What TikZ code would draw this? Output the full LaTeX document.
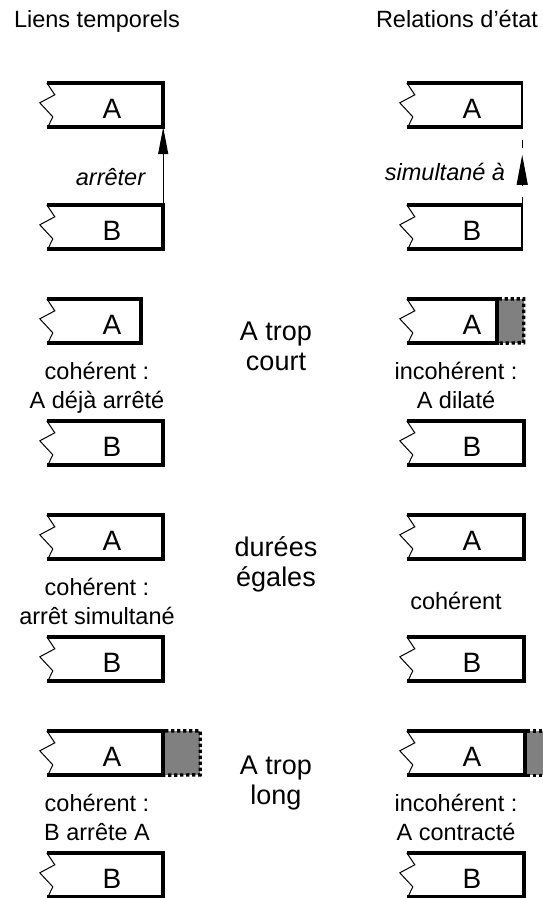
\documentclass[tikz,border=0pt]{standalone}
\usepackage{fontspec}
\setmainfont{Liberation Sans}
\usetikzlibrary{arrows.meta,decorations.markings}
\definecolor{extgray}{HTML}{808080}
\tikzset{
  frame/.style={line width=3.6pt},
  zig/.style={line width=1pt, line join=miter},
  boxarea/.style={inner sep=0pt, minimum height=44pt, draw=none},
  letter/.style={font=\fontsize{28}{32}\selectfont, anchor=base, inner sep=0pt},
  txt/.style={font=\fontsize{23.5}{28}\selectfont, anchor=base, inner sep=0pt},
  big/.style={font=\fontsize{27}{32}\selectfont, anchor=base, inner sep=0pt},
  lab/.style={font=\fontsize{23.5}{28}\selectfont\itshape, anchor=base, inner sep=0pt},
  ext/.style={fill=extgray, draw=none},
  dots/.style={line width=3.4pt, dash pattern=on 3.4pt off 2.6pt},
  link/.style={line width=1pt},
}
% name, left x, right x, top y, letter, right edge width
\newcommand{\tbox}[6]{%
  \node[boxarea, minimum width={#3pt-#2pt}] (#1) at ({(#2+#3)/2},{#4+22}) {};
  \draw[frame] (#1.north west) -- (#1.north east);
  \draw[frame] (#1.south west) -- (#1.south east);
  \draw[line width=#6] ([yshift=1.8pt]#1.north east) -- ([yshift=-1.8pt]#1.south east);
  \draw[zig] (#1.north west) -- ++(8,12) -- ++(-15,8) -- ++(13,14) -- ([xshift=1pt]#1.south west);
  \node[letter] (#1t) at (#2+65,#4+35) {#5};
}
\begin{document}
\begin{tikzpicture}[x=1pt,y=-1pt]
\useasboundingbox (0,0) rectangle (543,898);
\clip (0,0) rectangle (543,898);

% headers
\node[txt] (h1) at (97,27) {Liens temporels};
\node[txt] (h2) at (457,27) {Relations d’état};

% row 1
\tbox{A1L}{47}{163}{83}{A}{3.6pt}
\tbox{B1L}{47}{163}{205}{B}{3.6pt}
\tbox{A1R}{407}{522}{83}{A}{1.6pt}
\tbox{B1R}{407}{522}{205}{B}{1.6pt}
\draw[link, -{Triangle[length=27pt,width=10pt]}] (B1L.north east) -- (A1L.south east);
\node[lab] (l1) at (110.5,185) {arrêter};
\draw[link, dash pattern=on 8pt off 11pt,
      decoration={markings, mark=at position 50pt with {\arrow{Triangle[length=30pt,width=11pt]}}},
      postaction={solid, decorate}] (B1R.north east) -- (A1R.south east);
\node[lab] (l2) at (445,180) {simultané à};

% row 2
\tbox{A2L}{47}{141}{299}{A}{3.6pt}
\tbox{B2L}{47}{163}{421}{B}{3.6pt}
\node[txt] (t2a) at (97,379) {cohérent :};
\node[txt] (t2b) at (97,408) {A déjà arrêté};
\node[big] (c2a) at (276,340) {A trop};
\node[big] (c2b) at (276,370) {court};
\tbox{A2R}{407}{496.5}{299}{A}{3.6pt}
\fill[ext] ([xshift=1.8pt]A2R.north east) rectangle ++(25,44);
\draw[dots] ([xshift=1.8pt]A2R.north east) -- ++(25.2,0) -- ++(0,44) -- ([xshift=1.8pt]A2R.south east);
\tbox{B2R}{407}{523.5}{421}{B}{3.6pt}
\node[txt] (u2a) at (456,379) {incohérent :};
\node[txt] (u2b) at (456,408) {A dilaté};

% row 3
\tbox{A3L}{47}{163}{515}{A}{3.6pt}
\tbox{B3L}{47}{163}{637}{B}{3.6pt}
\node[txt] (t3a) at (97,595) {cohérent :};
\node[txt] (t3b) at (97,624) {arrêt simultané};
\node[big] (c3a) at (276,556) {durées};
\node[big] (c3b) at (276,586) {égales};
\tbox{A3R}{407}{523.5}{515}{A}{3.6pt}
\tbox{B3R}{407}{523.5}{637}{B}{3.6pt}
\node[txt] (u3a) at (456,609) {cohérent};

% row 4
\tbox{A4L}{47}{163}{731}{A}{3.6pt}
\fill[ext] ([xshift=1.8pt]A4L.north east) rectangle ++(35,44);
\draw[dots] ([xshift=1.8pt]A4L.north east) -- ++(35.2,0) -- ++(0,44) -- ([xshift=1.8pt]A4L.south east);
\tbox{B4L}{47}{163}{853}{B}{3.6pt}
\node[txt] (t4a) at (97,811) {cohérent :};
\node[txt] (t4b) at (97,840) {B arrête A};
\node[big] (c4a) at (276,774) {A trop};
\node[big] (c4b) at (276,804) {long};
\tbox{A4R}{407}{525}{731}{A}{3.6pt}
\fill[ext] ([xshift=1.8pt]A4R.north east) rectangle ++(40,44);
\draw[dots] ([xshift=1.8pt]A4R.north east) -- ++(40,0);
\draw[dots] ([xshift=1.8pt]A4R.south east) -- ++(40,0);
\tbox{B4R}{407}{523.5}{853}{B}{3.6pt}
\node[txt] (u4a) at (456,811) {incohérent :};
\node[txt] (u4b) at (456,840) {A contracté};
\end{tikzpicture}
\end{document}
